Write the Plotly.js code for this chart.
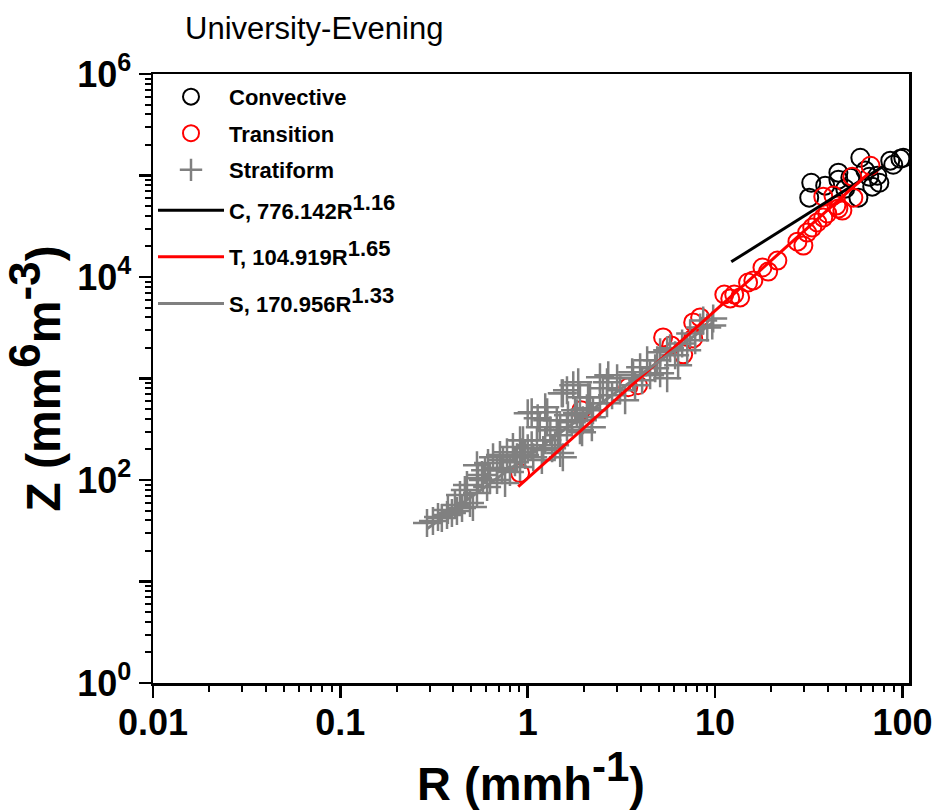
<!DOCTYPE html>
<html>
<head>
<meta charset="utf-8">
<script src="https://cdn.plot.ly/plotly-3.0.1.min.js"></script>
<style>html,body{margin:0;padding:0;background:#fff;}#chart{width:939px;height:812px;}</style>
</head>
<body>
<div id="chart"></div>
<script>
// Convective (black open circles)
const convR = [32.6, 31.8, 38.7, 45.5, 45.5, 52.7, 59.6, 58.2, 66.5, 69.0, 75.3, 86.1, 89.3, 97.5, 101, 49.5, 63.4, 73.4];
const convZ = [84900, 60500, 79400, 106600, 91000, 95100, 149600, 60500, 97300, 77600, 84900, 140000, 127600, 146200, 149600, 74100, 111700, 99500];

// Transition (red open circles)
const tranR = [0.91, 1.93, 3.44, 3.88, 5.28, 5.83, 6.76, 7.64, 8.32, 11.2, 12.05, 12.65, 13.6, 15.0, 16.0, 17.9, 19.2, 21.5, 27.5, 29.6, 31.0, 33.0, 35.1, 37.8, 37.8, 39.7, 42.8, 44.4, 45.5, 47.8, 54.7, 54.0, 67.5, 7.64];
const tranZ = [117, 487, 819, 858, 2540, 2120, 1730, 3570, 4000, 6730, 6150, 6730, 6290, 8830, 9250, 12400, 11300, 14500, 22300, 20400, 27400, 30700, 34400, 38500, 61900, 42200, 63400, 50500, 47200, 45100, 60500, 97300, 124800, 2480];

// Stratiform (gray crosses)
const stratR = [0.290, 0.312, 0.332, 0.348, 0.371, 0.394, 0.419, 0.446, 0.492, 0.510,
  0.435, 0.462, 0.474, 0.536, 0.577, 0.570, 0.607, 0.629, 0.536, 0.614,
  0.686, 0.686, 0.653, 0.729, 0.738, 0.757, 0.804, 0.775, 0.834, 0.877,
  0.910, 0.933, 0.944, 1.00, 1.05, 1.07, 1.12, 1.16, 1.19, 1.21,
  1.24, 1.27, 1.32, 1.43, 1.45, 1.54, 1.62, 1.52, 1.75, 1.72,
  1.90, 1.97, 1.05, 1.27, 1.13, 1.79, 2.07, 2.43, 1.90, 2.20,
  1.49, 0.910, 1.54, 1.86, 2.43, 2.65, 3.00, 2.10, 1.62, 2.15,
  2.52, 2.69, 3.31, 3.61, 3.98, 4.34, 4.91, 5.09, 5.55, 4.08,
  4.50, 5.09, 5.75, 6.35, 6.67, 7.36, 8.32, 8.64, 7.10, 9.77,
  2.65, 2.23, 1.83, 9.08, 9.66, 5.55, 3.65, 1.49, 1.35, 2.20,
  1.95, 0.711, 0.855, 0.968, 1.24, 1.40, 3.11, 3.74, 4.79, 6.12,
  7.83, 2.82, 1.64, 1.00, 0.592, 0.543, 0.409, 0.375];
const stratZ = [37.7, 39.4, 43.2, 42.2, 45.2, 47.3, 49.5, 52.9, 59.3, 54.2,
  71.1, 79.6, 89.1, 74.3, 99.8, 112, 85.1, 99.8, 140, 147,
  131, 99.8, 168, 125, 157, 93.3, 120, 188, 211, 168,
  134, 188, 247, 455, 220, 168, 247, 331, 157, 197,
  521, 388, 310, 388, 276, 168, 331, 715, 858, 371,
  653, 388, 465, 465, 406, 487, 509, 570, 310, 415,
  331, 247, 715, 918, 1028, 918, 1005, 653, 766, 653,
  801, 1075, 611, 1151, 1288, 1510, 1510, 1125, 1005, 960,
  1075, 1811, 1982, 1349, 2218, 2780, 3186, 3733, 1893, 3909,
  570, 487, 455, 3186, 3334, 1893, 1075, 184, 206, 331,
  296, 176, 150, 176, 247, 220, 766, 858, 1259, 1690,
  2377, 684, 435, 206, 125, 104, 56.7, 50.6];

// Fitted power-law lines (end points)
const fitCR = [12.2, 79];
const fitCZ = [14100, 123500];
const fitTR = [0.89, 66];
const fitTZ = [86, 105000];
const fitSR = [0.29, 9.6];
const fitSZ = [33, 3500];

const supL = s => '<sup><span style="font-size:22px">' + s + '</span></sup>';
const seriesNames = ['Convective', 'Transition', 'Stratiform',
  'C, 776.142R' + supL('1.16'), 'T, 104.919R' + supL('1.65'), 'S, 170.956R' + supL('1.33')];

const xTickVals = [0.01, 0.1, 1, 10, 100];
const xTickText = ['0.01', '0.1', '1', '10', '100'];
const yTickVals = [1, 10, 100, 1000, 10000, 100000, 1000000];
const yTickText = ['10<sup>0</sup>', '', '10<sup>2</sup>', '', '10<sup>4</sup>', '', '10<sup>6</sup>'];

function minorVals(fromExp, toExp) {
  const v = [];
  for (let e = fromExp; e < toExp; e++) {
    for (let m = 2; m <= 9; m++) v.push(m * Math.pow(10, e));
  }
  return v;
}

const FONT = 'Arial, "Liberation Sans", Helvetica, sans-serif';
const GRAY = '#808080';
const supX = s => '<sup><span style="font-size:42px">' + s + '</span></sup>';
const supY = s => '<sup><span style="font-size:44px">' + s + '</span></sup>';

const traces = [
  {x: convR, y: convZ, name: seriesNames[0], legend: 'legend', legendgroup: 'g1', type: 'scatter', mode: 'markers',
   marker: {symbol: 'circle-open', size: 18, color: 'black', line: {width: 2, color: 'black'}}},
  {x: tranR, y: tranZ, name: seriesNames[1], legend: 'legend', legendgroup: 'g2', type: 'scatter', mode: 'markers',
   marker: {symbol: 'circle-open', size: 18, color: '#ff0000', line: {width: 2, color: '#ff0000'}}},
  {x: stratR, y: stratZ, name: seriesNames[2], legend: 'legend', legendgroup: 'g3', type: 'scatter', mode: 'markers',
   marker: {symbol: 'cross-thin-open', size: 20, color: GRAY, line: {width: 2.5, color: GRAY}}},
  {x: fitCR, y: fitCZ, name: seriesNames[3], legend: 'legend2', legendgroup: 'g4', type: 'scatter', mode: 'lines',
   line: {color: 'black', width: 3}},
  {x: fitTR, y: fitTZ, name: seriesNames[4], legend: 'legend2', legendgroup: 'g5', type: 'scatter', mode: 'lines',
   line: {color: '#ff0000', width: 3}},
  {x: fitSR, y: fitSZ, name: seriesNames[5], legend: 'legend2', legendgroup: 'g6', type: 'scatter', mode: 'lines',
   line: {color: GRAY, width: 3}}
];

const legendFont = {family: FONT, size: 22, weight: 700, color: 'black'};

const layout = {
  width: 939, height: 812,
  margin: {l: 153, r: 30, t: 74, b: 129},
  paper_bgcolor: '#fff', plot_bgcolor: '#fff',
  font: {family: FONT, color: 'black'},
  showlegend: true,
  legend: {x: 0, y: 0.997, xanchor: 'left', yanchor: 'top', bgcolor: 'rgba(0,0,0,0)',
    borderwidth: 0, itemwidth: 66, itemsizing: 'trace', tracegroupgap: 5, font: legendFont},
  legend2: {x: 0, y: 0.8105, xanchor: 'left', yanchor: 'top', bgcolor: 'rgba(0,0,0,0)',
    borderwidth: 0, itemwidth: 66, itemsizing: 'trace', tracegroupgap: 15, font: legendFont},
  title: {text: 'University-Evening', x: 185 / 939, xref: 'container', xanchor: 'left',
    y: 1 - 28 / 812, yref: 'container', yanchor: 'middle',
    font: {family: FONT, size: 31, color: 'black'}},
  xaxis: {type: 'log', range: [-2, 2.035], showgrid: false, zeroline: false,
    showline: true, linewidth: 2.5, linecolor: 'black', mirror: true,
    ticks: 'outside', ticklen: 12, tickwidth: 2.5, tickcolor: 'black',
    tickmode: 'array', tickvals: xTickVals, ticktext: xTickText, ticklabelstandoff: -6,
    tickfont: {family: FONT, size: 36, weight: 700, color: 'black'},
    minor: {ticks: 'outside', ticklen: 6, tickwidth: 2, tickcolor: 'black',
      tickmode: 'array', tickvals: minorVals(-2, 3), showgrid: false},
    title: {text: 'R (mmh' + supX('-1') + ')', standoff: 0,
      font: {family: FONT, size: 47, weight: 700, color: 'black'}}},
  yaxis: {type: 'log', range: [0, 6], showgrid: false, zeroline: false,
    showline: true, linewidth: 2.5, linecolor: 'black', mirror: true,
    ticks: 'outside', ticklen: 12, tickwidth: 2.5, tickcolor: 'black',
    tickmode: 'array', tickvals: yTickVals, ticktext: yTickText,
    tickfont: {family: FONT, size: 36, weight: 700, color: 'black'},
    minor: {ticks: 'outside', ticklen: 6, tickwidth: 2, tickcolor: 'black',
      tickmode: 'array', tickvals: minorVals(0, 6), showgrid: false},
    title: {text: 'Z (mm' + supY('6') + 'm' + supY('-3') + ')', standoff: 10,
      font: {family: FONT, size: 48, weight: 700, color: 'black'}}}
};

Plotly.newPlot('chart', traces, layout, {displayModeBar: false, staticPlot: true});
</script>
</body>
</html>
